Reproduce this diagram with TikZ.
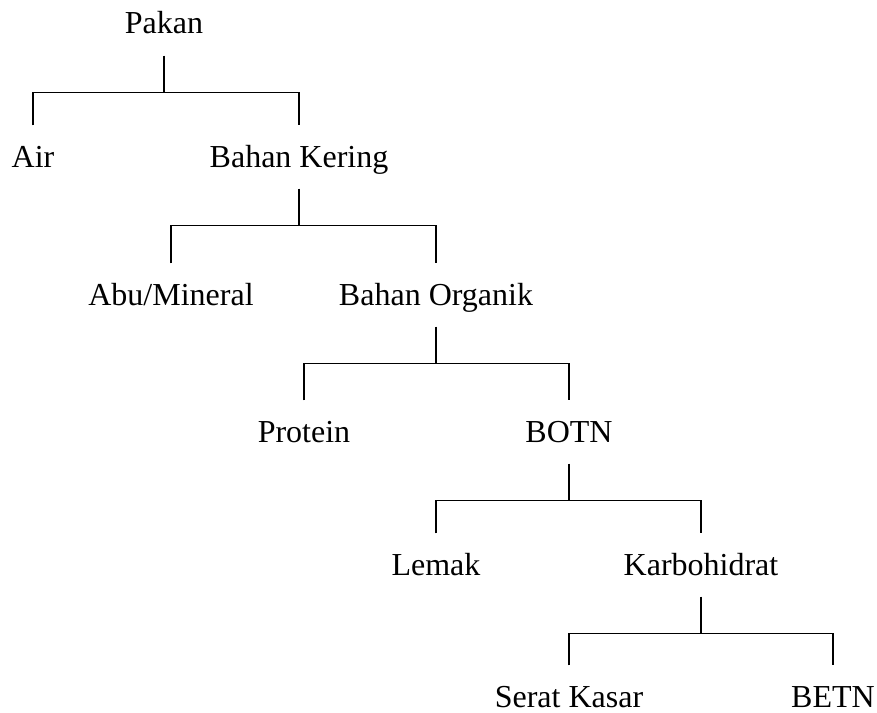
\documentclass[tikz,border=0pt]{standalone}
\usepackage{fontspec}
\setmainfont{Liberation Serif}
\begin{document}
\begin{tikzpicture}[x=0.75pt, y=-0.75pt, line width=0.9pt]
  \tikzset{item/.style={anchor=base, font=\fontsize{24}{28}\selectfont,
      inner xsep=0pt, inner ysep=6pt, text height=24.75pt, text depth=9.75pt}}
  \useasboundingbox (0,0) rectangle (877,713);

  % Levels of the feed composition
  \node[item] (pakan)    at (164,34)  {Pakan};
  \node[item] (air)      at (33,167)  {Air};
  \node[item] (kering)   at (299,167) {Bahan Kering};
  \node[item] (abu)      at (171,305) {Abu/Mineral};
  \node[item] (organik)  at (436,305) {Bahan Organik};
  \node[item] (protein)  at (304,442) {Protein};
  \node[item] (botn)     at (569,442) {BOTN};
  \node[item] (lemak)    at (436,575) {Lemak};
  \node[item] (karbo)    at (701,575) {Karbohidrat};
  \node[item] (serat)    at (569,707) {Serat Kasar};
  \node[item] (betn)     at (833,707) {BETN};

  % Branches: parent down to a junction, then out to both children
  \foreach \p/\l/\r in {pakan/air/kering, kering/abu/organik,
      organik/protein/botn, botn/lemak/karbo, karbo/serat/betn}
    \draw (\p.south) -- ++(0,37) coordinate (j) (\l.north) |- (j) -| (\r.north);
\end{tikzpicture}
\end{document}
